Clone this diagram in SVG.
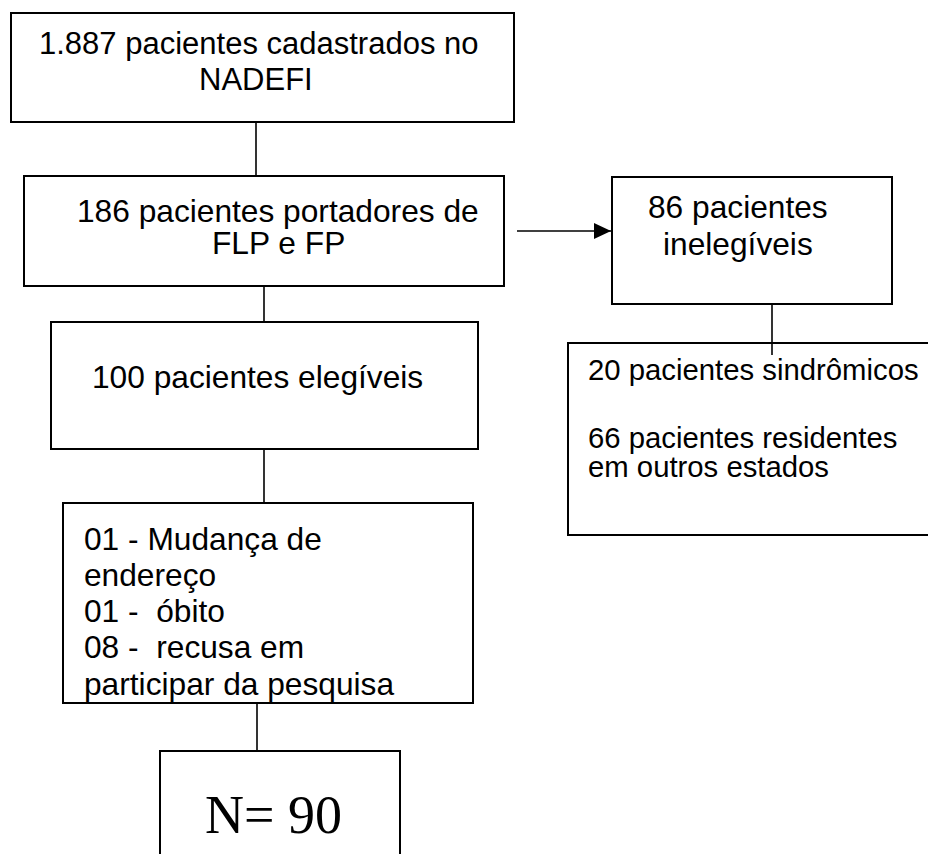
<svg xmlns="http://www.w3.org/2000/svg" width="928" height="854" viewBox="0 0 928 854">
<style>
.box{fill:#fff;stroke:#000;stroke-width:2}
.t{font-family:"Liberation Sans",Arial,sans-serif;font-size:31.7px;fill:#000}
.t1{font-size:31px}
.t5{font-size:29.3px}
.n{font-family:"Liberation Serif","Times New Roman",serif;font-size:54px;fill:#000}
.c{stroke:#000;stroke-width:1.6;fill:none}
</style>
<defs>
<marker id="ah" markerWidth="17" markerHeight="16" refX="17" refY="8" orient="auto" markerUnits="userSpaceOnUse" viewBox="0 0 17 16">
<path d="M0,0 L17,8 L0,16 z" fill="#000"/>
</marker>
</defs>
<rect width="928" height="854" fill="#fff"/>
<g id="n1">
<rect class="box" x="11" y="13" width="503" height="109"/>
<text class="t t1" x="39" y="54">1.887 pacientes cadastrados no</text>
<text class="t t1" x="199" y="90">NADEFI</text>
</g>
<g id="n2">
<rect class="box" x="24" y="176" width="480" height="110"/>
<text class="t" x="77" y="222">186 pacientes portadores de</text>
<text class="t" x="212" y="254">FLP e FP</text>
</g>
<g id="n3">
<rect class="box" x="612" y="177" width="280" height="127"/>
<text class="t" x="648" y="218">86 pacientes</text>
<text class="t" x="663" y="255">inelegíveis</text>
</g>
<g id="n4">
<rect class="box" x="51" y="322" width="427" height="127"/>
<text class="t" x="92" y="388">100 pacientes elegíveis</text>
</g>
<g id="n5">
<rect class="box" x="568" y="343" width="372" height="192"/>
<text class="t t5" x="588" y="380">20 pacientes sindrômicos</text>
<text class="t t5" x="588" y="448">66 pacientes residentes</text>
<text class="t t5" x="588" y="477">em outros estados</text>
</g>
<g id="n6">
<rect class="box" x="63" y="503" width="410" height="200"/>
<text class="t" x="84" y="550">01 - Mudança de</text>
<text class="t" x="84" y="586">endereço</text>
<text class="t" x="84" y="622" xml:space="preserve">01 -  óbito</text>
<text class="t" x="84" y="658" xml:space="preserve">08 -  recusa em</text>
<text class="t" x="84" y="695">participar da pesquisa</text>
</g>
<g id="n7">
<rect class="box" x="160" y="751" width="240" height="110"/>
<text class="n" x="205" y="833">N= 90</text>
</g>
<g id="connectors">
<line class="c" x1="256" y1="122" x2="256" y2="176"/>
<line class="c" x1="264" y1="286" x2="264" y2="322"/>
<line class="c" x1="264" y1="449" x2="264" y2="503"/>
<line class="c" x1="257" y1="703" x2="257" y2="751"/>
<line class="c" x1="772" y1="304" x2="772" y2="355"/>
<line class="c" x1="517" y1="231" x2="611" y2="231" marker-end="url(#ah)"/>
</g>
</svg>
